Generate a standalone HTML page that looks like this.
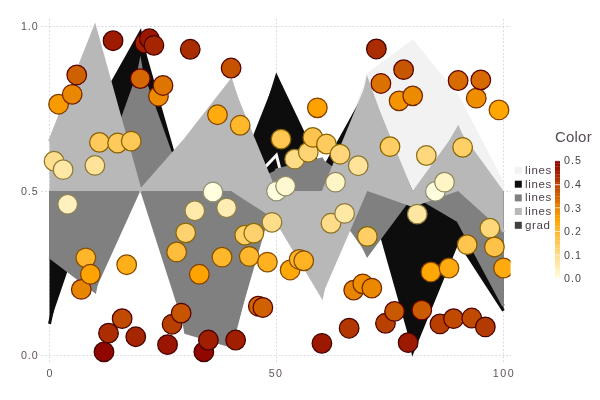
<!DOCTYPE html><html><head><meta charset="utf-8"><style>
html,body{margin:0;padding:0;background:#fff}
#c{position:relative;width:600px;height:400px;overflow:hidden;background:#fff;font-family:"Liberation Sans",sans-serif}
.t,.k,.ti{will-change:transform}.t{position:absolute;white-space:nowrap;color:#5E525D;font-size:10.7px;line-height:12px;height:12px}
.k{position:absolute;white-space:nowrap;color:#4C404B;font-size:11.5px;line-height:12px;height:12px;letter-spacing:0.65px}
</style></head><body><div id="c">
<svg width="600" height="400" viewBox="0 0 600 400" style="position:absolute;left:0;top:0">
<rect width="600" height="400" fill="#fff"/>
<defs><clipPath id="pc"><rect x="41.3" y="0" width="469.3" height="400"/></clipPath><clipPath id="cc"><rect x="41.3" y="18.9" width="469.3" height="344.9"/></clipPath><clipPath id="zz"><rect x="255" y="140" width="40" height="50"/></clipPath></defs>
<g stroke="#D0D0E0" stroke-width="0.8" stroke-dasharray="1.9,1.85" fill="none">
<line x1="41.3" x2="510.8" y1="355.50" y2="355.50"/>
<line x1="41.3" x2="510.8" y1="191.50" y2="191.50"/>
<line x1="41.3" x2="510.8" y1="26.50" y2="26.50"/>
<line y1="18.9" y2="363.8" x1="49.50" x2="49.50"/>
<line y1="18.9" y2="363.8" x1="276.50" x2="276.50"/>
<line y1="18.9" y2="363.8" x1="503.50" x2="503.50"/>
</g>
<g stroke="none">
<polygon points="49.50,191.00 94.90,157.80 140.30,124.85 185.70,191.00 231.10,191.00 276.50,154.18 321.90,191.00 367.30,74.98 412.70,41.24 458.10,97.01 503.50,184.85 503.50,191.00 458.10,191.00 412.70,191.00 367.30,191.00 321.90,266.53 276.50,191.00 231.10,196.35 185.70,207.22 140.30,191.00 94.90,191.00 49.50,223.70" fill="#F2F2F2"/>
<polyline points="49.50,223.70 94.90,157.80 140.30,124.85 185.70,207.22 231.10,196.35 276.50,154.18 321.90,266.53 367.30,74.98 412.70,41.24 458.10,97.01 503.50,184.85" fill="none" stroke="#F2F2F2" stroke-width="3.00" stroke-linejoin="miter" stroke-miterlimit="10" clip-path="url(#pc)"/>
<polygon points="49.50,191.00 94.90,113.20 140.30,32.55 185.70,191.00 231.10,191.00 276.50,76.58 321.90,171.95 367.30,90.09 412.70,191.00 458.10,191.00 503.50,191.00 503.50,310.70 458.10,240.58 412.70,351.43 367.30,191.00 321.90,191.00 276.50,191.00 231.10,223.70 185.70,256.65 140.30,191.00 94.90,191.00 49.50,323.88" fill="#0D0D0D"/>
<polyline points="49.50,323.88 94.90,113.20 140.30,32.55 185.70,256.65 231.10,223.70 276.50,76.58 321.90,171.95 367.30,90.09 412.70,351.43 458.10,240.58 503.50,310.70" fill="none" stroke="#0D0D0D" stroke-width="3.00" stroke-linejoin="miter" stroke-miterlimit="10" clip-path="url(#pc)"/>
<polyline points="255,177.7 276.4,155.2 283,180.9" fill="none" stroke="#F8F8F8" stroke-width="3.0" stroke-linejoin="miter"/>
<polygon points="49.50,191.00 94.90,191.00 140.30,63.93 185.70,191.00 231.10,191.00 276.50,169.92 321.90,158.89 367.30,191.00 412.70,191.00 458.10,191.00 503.50,191.00 503.50,305.70 458.10,220.81 412.70,194.05 367.30,255.07 321.90,191.00 276.50,191.00 231.10,346.04 185.70,332.58 140.30,191.00 94.90,291.24 49.50,256.77" fill="#808080"/>
<polyline points="49.50,256.77 94.90,291.24 140.30,63.93 185.70,332.58 231.10,346.04 276.50,169.92 321.90,158.89 367.30,255.07 412.70,194.05 458.10,220.81 503.50,305.70" fill="none" stroke="#808080" stroke-width="3.00" stroke-linejoin="miter" stroke-miterlimit="10" clip-path="url(#pc)"/>
<polygon points="49.50,141.55 94.90,27.08 140.30,190.75 185.70,138.99 231.10,80.56 276.50,191.00 321.90,191.00 367.30,80.58 412.70,191.00 458.10,128.17 503.50,191.00 503.50,232.00 458.10,191.00 412.70,206.97 367.30,191.00 321.90,296.10 276.50,220.44 231.10,191.00 185.70,191.00 140.30,191.00 94.90,191.00 49.50,191.00" fill="#B8B8B8"/>
<polyline points="49.50,141.55 94.90,27.08 140.30,190.75 185.70,138.99 231.10,80.56 276.50,220.44 321.90,296.10 367.30,80.58 412.70,206.97 458.10,128.17 503.50,232.00" fill="none" stroke="#B8B8B8" stroke-width="3.00" stroke-linejoin="miter" stroke-miterlimit="10" clip-path="url(#pc)"/>
</g>
<g stroke-width="1.25" clip-path="url(#cc)">
<circle cx="54.04" cy="161.12" r="9.8" fill="#FFDE8E" stroke="#8C7328"/>
<circle cx="58.58" cy="104.22" r="9.8" fill="#F89B00" stroke="#7E3700"/>
<circle cx="63.12" cy="169.67" r="9.8" fill="#FFE7A5" stroke="#8E7C3F"/>
<circle cx="67.66" cy="204.21" r="9.8" fill="#FFF1BD" stroke="#8F8455"/>
<circle cx="72.20" cy="94.35" r="9.8" fill="#EA8700" stroke="#722400"/>
<circle cx="76.74" cy="74.95" r="9.8" fill="#CF6000" stroke="#5B0000"/>
<circle cx="81.28" cy="289.39" r="9.8" fill="#E88500" stroke="#702100"/>
<circle cx="85.82" cy="257.82" r="9.8" fill="#FFB62B" stroke="#855000"/>
<circle cx="90.36" cy="274.26" r="9.8" fill="#FEA300" stroke="#833F00"/>
<circle cx="94.90" cy="165.40" r="9.8" fill="#FFE399" stroke="#8D7734"/>
<circle cx="99.44" cy="142.37" r="9.8" fill="#FFC95B" stroke="#886100"/>
<circle cx="103.98" cy="351.88" r="9.8" fill="#900700" stroke="#440000"/>
<circle cx="108.52" cy="333.13" r="9.8" fill="#AB2D00" stroke="#450000"/>
<circle cx="113.06" cy="40.74" r="9.8" fill="#9E1B00" stroke="#450000"/>
<circle cx="117.60" cy="143.03" r="9.8" fill="#FFCA5C" stroke="#886200"/>
<circle cx="122.14" cy="318.66" r="9.8" fill="#BF4A00" stroke="#4E0000"/>
<circle cx="126.68" cy="264.72" r="9.8" fill="#FFAF18" stroke="#854900"/>
<circle cx="131.22" cy="141.06" r="9.8" fill="#FFC857" stroke="#886000"/>
<circle cx="135.76" cy="336.75" r="9.8" fill="#A52600" stroke="#450000"/>
<circle cx="140.30" cy="78.57" r="9.8" fill="#D46700" stroke="#5F0000"/>
<circle cx="144.84" cy="43.05" r="9.8" fill="#A22000" stroke="#450000"/>
<circle cx="149.38" cy="38.77" r="9.8" fill="#9B1700" stroke="#450000"/>
<circle cx="153.92" cy="45.35" r="9.8" fill="#A52500" stroke="#450000"/>
<circle cx="158.46" cy="96.23" r="9.8" fill="#ED8B00" stroke="#742800"/>
<circle cx="163.00" cy="85.47" r="9.8" fill="#DD7500" stroke="#670F00"/>
<circle cx="167.54" cy="344.65" r="9.8" fill="#9A1600" stroke="#450000"/>
<circle cx="172.08" cy="324.25" r="9.8" fill="#B73F00" stroke="#490000"/>
<circle cx="176.62" cy="251.90" r="9.8" fill="#FFBD3B" stroke="#865600"/>
<circle cx="181.16" cy="313.07" r="9.8" fill="#C75500" stroke="#540000"/>
<circle cx="185.70" cy="232.82" r="9.8" fill="#FFD16F" stroke="#8A6800"/>
<circle cx="190.24" cy="49.29" r="9.8" fill="#AA2D00" stroke="#450000"/>
<circle cx="194.78" cy="210.78" r="9.8" fill="#FFEAAB" stroke="#8E7E44"/>
<circle cx="199.32" cy="274.26" r="9.8" fill="#FEA300" stroke="#833F00"/>
<circle cx="203.86" cy="351.88" r="9.8" fill="#900700" stroke="#440000"/>
<circle cx="208.40" cy="340.04" r="9.8" fill="#A11F00" stroke="#450000"/>
<circle cx="212.94" cy="192.04" r="9.8" fill="#FFFEDE" stroke="#909073"/>
<circle cx="217.48" cy="114.75" r="9.8" fill="#FFAB0F" stroke="#854600"/>
<circle cx="222.02" cy="257.16" r="9.8" fill="#FFB72C" stroke="#855100"/>
<circle cx="226.56" cy="207.82" r="9.8" fill="#FFEDB3" stroke="#8E804C"/>
<circle cx="231.10" cy="68.04" r="9.8" fill="#C55200" stroke="#530000"/>
<circle cx="235.64" cy="340.04" r="9.8" fill="#A11F00" stroke="#450000"/>
<circle cx="240.18" cy="125.27" r="9.8" fill="#FFB72C" stroke="#855100"/>
<circle cx="244.72" cy="235.12" r="9.8" fill="#FFCF68" stroke="#896600"/>
<circle cx="249.26" cy="256.50" r="9.8" fill="#FFB82E" stroke="#865200"/>
<circle cx="253.80" cy="233.15" r="9.8" fill="#FFD16E" stroke="#8A6800"/>
<circle cx="258.34" cy="306.17" r="9.8" fill="#D16300" stroke="#5C0000"/>
<circle cx="262.88" cy="307.48" r="9.8" fill="#CF6100" stroke="#5B0000"/>
<circle cx="267.42" cy="262.09" r="9.8" fill="#FFB11F" stroke="#854C00"/>
<circle cx="271.96" cy="222.30" r="9.8" fill="#FFDD8B" stroke="#8C7326"/>
<circle cx="276.50" cy="191.05" r="9.8" fill="#FFFFDF" stroke="#909074"/>
<circle cx="281.04" cy="139.08" r="9.8" fill="#FFC652" stroke="#875E00"/>
<circle cx="285.58" cy="186.12" r="9.8" fill="#FFF9D2" stroke="#908B68"/>
<circle cx="290.12" cy="269.99" r="9.8" fill="#FFA909" stroke="#854400"/>
<circle cx="294.66" cy="159.15" r="9.8" fill="#FFDC88" stroke="#8C7122"/>
<circle cx="299.20" cy="259.46" r="9.8" fill="#FFB426" stroke="#854F00"/>
<circle cx="303.74" cy="260.78" r="9.8" fill="#FFB322" stroke="#854D00"/>
<circle cx="308.28" cy="152.24" r="9.8" fill="#FFD475" stroke="#8A6B07"/>
<circle cx="312.82" cy="137.44" r="9.8" fill="#FFC44D" stroke="#875D00"/>
<circle cx="317.36" cy="107.84" r="9.8" fill="#FDA200" stroke="#833E00"/>
<circle cx="321.90" cy="343.33" r="9.8" fill="#9C1800" stroke="#450000"/>
<circle cx="326.44" cy="144.02" r="9.8" fill="#FFCB5F" stroke="#886300"/>
<circle cx="330.98" cy="223.28" r="9.8" fill="#FFDC89" stroke="#8C7223"/>
<circle cx="335.52" cy="182.17" r="9.8" fill="#FFF5C7" stroke="#8F885E"/>
<circle cx="340.06" cy="154.21" r="9.8" fill="#FFD67B" stroke="#8B6D11"/>
<circle cx="344.60" cy="213.42" r="9.8" fill="#FFE7A4" stroke="#8E7B3E"/>
<circle cx="349.14" cy="328.20" r="9.8" fill="#B23700" stroke="#460000"/>
<circle cx="353.68" cy="290.05" r="9.8" fill="#E78400" stroke="#702000"/>
<circle cx="358.22" cy="165.73" r="9.8" fill="#FFE39A" stroke="#8D7835"/>
<circle cx="362.76" cy="283.80" r="9.8" fill="#F09000" stroke="#772D00"/>
<circle cx="367.30" cy="236.44" r="9.8" fill="#FFCE65" stroke="#896500"/>
<circle cx="371.84" cy="288.08" r="9.8" fill="#EA8800" stroke="#722400"/>
<circle cx="376.38" cy="48.97" r="9.8" fill="#AA2C00" stroke="#450000"/>
<circle cx="380.92" cy="83.50" r="9.8" fill="#DB7100" stroke="#650800"/>
<circle cx="385.46" cy="323.27" r="9.8" fill="#B94100" stroke="#4A0000"/>
<circle cx="390.00" cy="146.65" r="9.8" fill="#FFCE66" stroke="#896500"/>
<circle cx="394.54" cy="311.43" r="9.8" fill="#C95900" stroke="#560000"/>
<circle cx="399.08" cy="100.87" r="9.8" fill="#F39400" stroke="#7A3100"/>
<circle cx="403.62" cy="69.69" r="9.8" fill="#C75600" stroke="#550000"/>
<circle cx="408.16" cy="342.67" r="9.8" fill="#9D1A00" stroke="#450000"/>
<circle cx="412.70" cy="95.87" r="9.8" fill="#EC8A00" stroke="#742700"/>
<circle cx="417.24" cy="214.07" r="9.8" fill="#FFE6A2" stroke="#8D7A3C"/>
<circle cx="421.78" cy="310.11" r="9.8" fill="#CB5B00" stroke="#580000"/>
<circle cx="426.32" cy="155.53" r="9.8" fill="#FFD87E" stroke="#8B6E16"/>
<circle cx="430.86" cy="271.96" r="9.8" fill="#FFA704" stroke="#844200"/>
<circle cx="435.40" cy="191.38" r="9.8" fill="#FFFFE0" stroke="#909074"/>
<circle cx="439.94" cy="323.93" r="9.8" fill="#B83F00" stroke="#490000"/>
<circle cx="444.48" cy="182.17" r="9.8" fill="#FFF5C7" stroke="#8F885E"/>
<circle cx="449.02" cy="268.01" r="9.8" fill="#FFAB0F" stroke="#854600"/>
<circle cx="453.56" cy="318.66" r="9.8" fill="#BF4A00" stroke="#4E0000"/>
<circle cx="458.10" cy="80.54" r="9.8" fill="#D76B00" stroke="#610000"/>
<circle cx="462.64" cy="147.31" r="9.8" fill="#FFCF68" stroke="#896600"/>
<circle cx="467.18" cy="244.66" r="9.8" fill="#FFC54E" stroke="#875D00"/>
<circle cx="471.72" cy="318.01" r="9.8" fill="#C04B00" stroke="#4F0000"/>
<circle cx="476.26" cy="98.17" r="9.8" fill="#EF8F00" stroke="#772C00"/>
<circle cx="480.80" cy="79.88" r="9.8" fill="#D66A00" stroke="#600000"/>
<circle cx="485.34" cy="326.89" r="9.8" fill="#B33A00" stroke="#470000"/>
<circle cx="489.88" cy="228.22" r="9.8" fill="#FFD77B" stroke="#8B6D12"/>
<circle cx="494.42" cy="246.96" r="9.8" fill="#FFC248" stroke="#875B00"/>
<circle cx="498.96" cy="109.94" r="9.8" fill="#FFA602" stroke="#844100"/>
<circle cx="503.50" cy="268.01" r="9.8" fill="#FFAB0F" stroke="#854600"/>
</g>
<rect x="555" y="275.76" width="5" height="2.89" fill="#FFFDDB"/>
<rect x="555" y="273.03" width="5" height="2.89" fill="#FFF9D0"/>
<rect x="555" y="270.29" width="5" height="2.89" fill="#FFF5C6"/>
<rect x="555" y="267.55" width="5" height="2.89" fill="#FFF0BC"/>
<rect x="555" y="264.81" width="5" height="2.89" fill="#FFECB1"/>
<rect x="555" y="262.08" width="5" height="2.89" fill="#FFE8A7"/>
<rect x="555" y="259.34" width="5" height="2.89" fill="#FFE49C"/>
<rect x="555" y="256.60" width="5" height="2.89" fill="#FFE092"/>
<rect x="555" y="253.87" width="5" height="2.89" fill="#FFDB87"/>
<rect x="555" y="251.13" width="5" height="2.89" fill="#FFD77D"/>
<rect x="555" y="248.39" width="5" height="2.89" fill="#FFD373"/>
<rect x="555" y="245.65" width="5" height="2.89" fill="#FFCF68"/>
<rect x="555" y="242.92" width="5" height="2.89" fill="#FFCB5E"/>
<rect x="555" y="240.18" width="5" height="2.89" fill="#FFC653"/>
<rect x="555" y="237.44" width="5" height="2.89" fill="#FFC249"/>
<rect x="555" y="234.70" width="5" height="2.89" fill="#FFBE3F"/>
<rect x="555" y="231.97" width="5" height="2.89" fill="#FFBA34"/>
<rect x="555" y="229.23" width="5" height="2.89" fill="#FFB62A"/>
<rect x="555" y="226.49" width="5" height="2.89" fill="#FFB21F"/>
<rect x="555" y="223.76" width="5" height="2.89" fill="#FFAD15"/>
<rect x="555" y="221.02" width="5" height="2.89" fill="#FFA90A"/>
<rect x="555" y="218.28" width="5" height="2.89" fill="#FFA500"/>
<rect x="555" y="215.54" width="5" height="2.89" fill="#FA9D00"/>
<rect x="555" y="212.81" width="5" height="2.89" fill="#F49600"/>
<rect x="555" y="210.07" width="5" height="2.89" fill="#EF8E00"/>
<rect x="555" y="207.33" width="5" height="2.89" fill="#E98600"/>
<rect x="555" y="204.60" width="5" height="2.89" fill="#E47F00"/>
<rect x="555" y="201.86" width="5" height="2.89" fill="#DF7700"/>
<rect x="555" y="199.12" width="5" height="2.89" fill="#D96F00"/>
<rect x="555" y="196.38" width="5" height="2.89" fill="#D46800"/>
<rect x="555" y="193.65" width="5" height="2.89" fill="#CE6000"/>
<rect x="555" y="190.91" width="5" height="2.89" fill="#C95800"/>
<rect x="555" y="188.17" width="5" height="2.89" fill="#C45100"/>
<rect x="555" y="185.43" width="5" height="2.89" fill="#BE4900"/>
<rect x="555" y="182.70" width="5" height="2.89" fill="#B94100"/>
<rect x="555" y="179.96" width="5" height="2.89" fill="#B33A00"/>
<rect x="555" y="177.22" width="5" height="2.89" fill="#AE3200"/>
<rect x="555" y="174.49" width="5" height="2.89" fill="#A92A00"/>
<rect x="555" y="171.75" width="5" height="2.89" fill="#A32300"/>
<rect x="555" y="169.01" width="5" height="2.89" fill="#9E1B00"/>
<rect x="555" y="166.27" width="5" height="2.89" fill="#981300"/>
<rect x="555" y="163.54" width="5" height="2.89" fill="#930C00"/>
<rect x="555" y="160.80" width="5" height="2.89" fill="#8E0400"/>
<rect x="555" y="278.15" width="5" height="0.7" fill="#fff" fill-opacity="0.9"/>
<rect x="555" y="254.61" width="5" height="0.7" fill="#fff" fill-opacity="0.9"/>
<rect x="555" y="231.07" width="5" height="0.7" fill="#fff" fill-opacity="0.9"/>
<rect x="555" y="207.53" width="5" height="0.7" fill="#fff" fill-opacity="0.9"/>
<rect x="555" y="183.99" width="5" height="0.7" fill="#fff" fill-opacity="0.9"/>
<rect x="555" y="160.45" width="5" height="0.7" fill="#fff" fill-opacity="0.9"/>
<rect x="514.8" y="166.80" width="7" height="7" fill="#F2F2F2"/>
<rect x="514.8" y="180.70" width="7" height="7" fill="#0D0D0D"/>
<rect x="514.8" y="194.40" width="7" height="7" fill="#808080"/>
<rect x="514.8" y="208.00" width="7" height="7" fill="#B8B8B8"/>
<rect x="514.8" y="221.80" width="7" height="7" fill="#404040"/>
</svg>
<div class="t" style="right:561.9px;top:349.3px;letter-spacing:0.9px">0.0</div>
<div class="t" style="right:561.9px;top:184.8px;letter-spacing:0.9px">0.5</div>
<div class="t" style="right:561.9px;top:20.3px;letter-spacing:0.9px">1.0</div>
<div class="t" style="left:19.7px;top:366.8px;width:60px;text-align:center;letter-spacing:1.2px">0</div>
<div class="t" style="left:246.0px;top:366.8px;width:60px;text-align:center;letter-spacing:1.2px">50</div>
<div class="t" style="left:474.4px;top:366.8px;width:60px;text-align:center;letter-spacing:1.6px">100</div>
<div class="k" style="left:525.4px;top:163.7px">lines</div>
<div class="k" style="left:525.4px;top:177.6px">lines</div>
<div class="k" style="left:525.4px;top:191.3px">lines</div>
<div class="k" style="left:525.4px;top:204.9px">lines</div>
<div class="k" style="left:525.4px;top:218.7px">grad</div>
<div class="t" style="left:563.5px;top:272.3px;letter-spacing:1.05px;color:#4C404B">0.0</div>
<div class="t" style="left:563.5px;top:248.8px;letter-spacing:1.05px;color:#4C404B">0.1</div>
<div class="t" style="left:563.5px;top:225.2px;letter-spacing:1.05px;color:#4C404B">0.2</div>
<div class="t" style="left:563.5px;top:201.7px;letter-spacing:1.05px;color:#4C404B">0.3</div>
<div class="t" style="left:563.5px;top:178.1px;letter-spacing:1.05px;color:#4C404B">0.4</div>
<div class="t" style="left:563.5px;top:153.7px;letter-spacing:1.05px;color:#4C404B">0.5</div>
<div class="ti" style="position:absolute;left:555.4px;top:128.0px;font-size:15px;line-height:18px;color:#564A55;letter-spacing:0.2px">Color</div>
</div></body></html>
